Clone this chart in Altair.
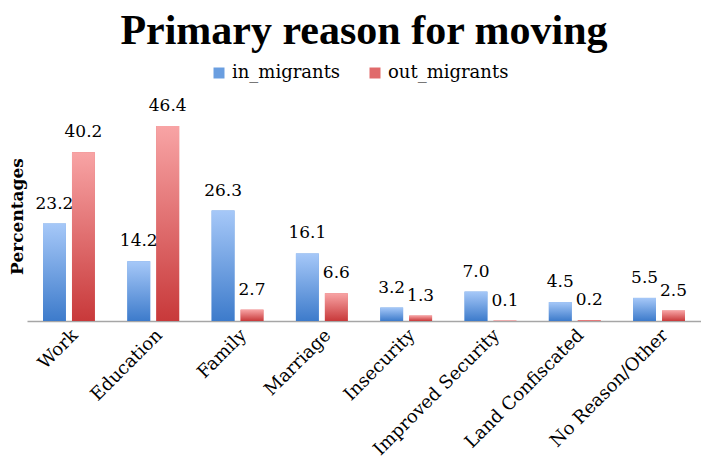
import altair as alt
import pandas as pd

categories = ["Work", "Education", "Family", "Marriage", "Insecurity",
              "Improved Security", "Land Confiscated", "No Reason/Other"]
in_migrants = [23.2, 14.2, 26.3, 16.1, 3.2, 7.0, 4.5, 5.5]
out_migrants = [40.2, 46.4, 2.7, 6.6, 1.3, 0.1, 0.2, 2.5]
series = ["in_migrants", "out_migrants"]

rows = []
for c, a, b in zip(categories, in_migrants, out_migrants):
    rows.append({"reason": c, "series": "in_migrants", "value": a})
    rows.append({"reason": c, "series": "out_migrants", "value": b})
df = pd.DataFrame(rows)

blue_grad = alt.LinearGradient(
    gradient="linear", x1=0, y1=0, x2=0, y2=1,
    stops=[alt.GradientStop(offset=0, color="#a6c8f8"),
           alt.GradientStop(offset=1, color="#3d7bcb")])
red_grad = alt.LinearGradient(
    gradient="linear", x1=0, y1=0, x2=0, y2=1,
    stops=[alt.GradientStop(offset=0, color="#f8a4a5"),
           alt.GradientStop(offset=1, color="#c8393a")])

x_enc = alt.X("reason:N", sort=categories,
              scale=alt.Scale(paddingInner=0.385, paddingOuter=0.19),
              axis=alt.Axis(title=None, labelAngle=-45, ticks=False,
                            domainColor="#a6a6a6", domainWidth=1.5,
                            labelFont="DejaVu Serif", labelFontSize=18,
                            labelColor="black", labelPadding=5,
                            labelLimit=300))
xo_enc = alt.XOffset("series:N", scale=alt.Scale(domain=series, paddingInner=0.21, paddingOuter=0))
y_enc = alt.Y("value:Q", scale=alt.Scale(domain=[0, 50], nice=False),
              axis=alt.Axis(title="Percentages", labels=False, ticks=False,
                            domain=False, grid=False, titleFont="DejaVu Serif",
                            titleFontSize=17, titleFontWeight="bold",
                            titleColor="black", titlePadding=1))

base = alt.Chart(df)

legend_bars = base.mark_bar().encode(
    x=x_enc, xOffset=xo_enc, y=y_enc,
    color=alt.Color("series:N", scale=alt.Scale(domain=series, range=["#6a9ee0", "#e06a6b"]),
                    legend=alt.Legend(title=None, orient="none", direction="horizontal",
                                      legendX=183, legendY=-47,
                                      labelFont="DejaVu Serif", labelFontSize=18,
                                      labelColor="black", symbolType="square",
                                      symbolSize=121, symbolStrokeWidth=0,
                                      columnPadding=25, labelOffset=4))
)

in_bars = base.transform_filter(alt.datum.series == "in_migrants").mark_bar(
    color=blue_grad).encode(x=x_enc, xOffset=xo_enc, y=y_enc)
out_bars = base.transform_filter(alt.datum.series == "out_migrants").mark_bar(
    color=red_grad).encode(x=x_enc, xOffset=xo_enc, y=y_enc)

labels = base.mark_text(font="DejaVu Serif", fontSize=17, color="black",
                        baseline="alphabetic", dy=-15).encode(
    x=x_enc, xOffset=xo_enc, y=y_enc, text=alt.Text("value:Q", format=".1f"))

chart = alt.layer(legend_bars, in_bars, out_bars, labels).properties(
    width=674, height=210,
    title=alt.TitleParams("Primary reason for moving", font="Liberation Serif",
                          fontSize=42, fontWeight="bold", color="black",
                          anchor="middle", offset=11),
    autosize=alt.AutoSizeParams(type="none"),
    padding={"left": 19, "top": 103, "right": 0, "bottom": 142},
).configure_view(stroke=None)

chart.save("out.html", embed_options={"renderer": "svg", "actions": False})
